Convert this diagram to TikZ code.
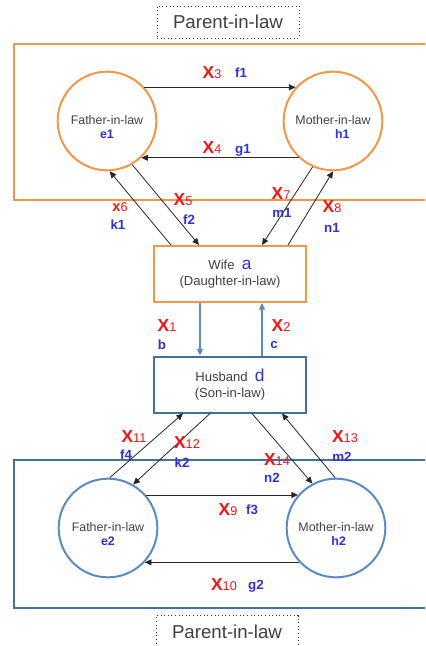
\documentclass[tikz,border=0pt]{standalone}
\usepackage{fontspec}
\setmainfont{Liberation Sans}
\usetikzlibrary{arrows.meta,calc}
\definecolor{orng}{HTML}{F79646}
\definecolor{stblue}{HTML}{5B8AC4}
\definecolor{dkblue}{HTML}{41719C}
\definecolor{xred}{HTML}{FF1010}
\definecolor{lblue}{HTML}{2F2FEA}
\definecolor{txt}{HTML}{404040}
\newcommand\XX[1]{{\fontsize{13}{13}\selectfont\bfseries X}{\fontsize{9.5}{9.5}\selectfont #1}}
\newcommand\ctext[2]{\raisebox{-5.5pt}[\height][\depth]{\begin{tabular}{@{}c@{}}#1\\[-1pt]#2\end{tabular}}}
\tikzset{
  pcircle/.style={circle,minimum size=74pt,inner sep=0pt,line width=1.5pt,
    font=\fontsize{9.3}{12}\selectfont,text=txt},
  arr/.style={-{Triangle[length=5pt,width=4.5pt]},line width=0.6pt,draw=black!85},
  barr/.style={-{Triangle[length=5pt,width=4.5pt]},line width=0.9pt,draw=stblue},
  xlab/.style={text=xred,inner sep=0pt},
  blab/.style={text=lblue,inner sep=0pt,font=\fontsize{10}{10}\selectfont\bfseries},
  person/.style={rectangle,minimum width=114pt,minimum height=42pt,line width=1.5pt,
    align=center,text=txt,font=\fontsize{9.8}{12.5}\selectfont},
  titlebox/.style={draw=black!80,dotted,line width=0.7pt,minimum width=106.5pt,
    text=txt,font=\fontsize{14}{14}\selectfont}
}
\begin{document}
\begin{tikzpicture}[x=0.75pt,y=-0.75pt]
\useasboundingbox (0,0) rectangle (425,646);
\clip (0,0) rectangle (425,646);
% frames
\draw[orng,line width=2.2pt] (14,44) rectangle (440,200);
\draw[dkblue,line width=2.2pt] (14,460) rectangle (440,608);
% title boxes
\node[titlebox,minimum height=24pt] (t1) at (228,22) {Parent-in-law};
\node[titlebox,minimum height=26pt] (t2) at (227,633) {\raisebox{2pt}{Parent-in-law}};
% top circles
\node[pcircle,draw=orng] (fa1) at (107,121) {\ctext{Father-in-law}{\color{lblue}\bfseries e1}};
\node[pcircle,draw=orng] (mo1) at (333,121) {\ctext{Mother-in-law}{\hspace*{14pt}\color{lblue}\bfseries h1}};
% bottom circles
\node[pcircle,draw=stblue] (fa2) at (108,528) {\ctext{Father-in-law}{\color{lblue}\bfseries e2}};
\node[pcircle,draw=stblue] (mo2) at (336,528) {\ctext{Mother-in-law}{\hspace*{4pt}\color{lblue}\bfseries h2}};
% persons
\node[person,draw=orng] (wife) at (230,274) {Wife~~{\color{lblue}\fontsize{13}{13}\selectfont a}\\(Daughter-in-law)};
\node[person,draw=dkblue] (husband) at (230,384.5) {Husband~~{\color{lblue}\fontsize{13}{13}\selectfont d}\\(Son-in-law)};
% top parents arrows
\draw[arr] (fa1.42) -- (mo1.138);
\draw[arr] (mo1.-133) -- (fa1.-47);
\draw[arr] ($(wife.north)+(-59,0)$) -- (fa1.-87);
\draw[arr] (fa1.-60) -- ($(wife.north)+(-31,0)$);
\draw[arr] (mo1.-114) -- ($(wife.north)+(32,0)$);
\draw[arr] ($(wife.north)+(58,0)$) -- (mo1.-90);
% wife-husband
\draw[barr] ($(wife.south)+(-30,0)$) -- ($(husband.north)+(-30,0)$);
\draw[barr] ($(husband.north)+(32,0)$) -- ($(wife.south)+(32,0)$);
% bottom arrows
\draw[arr] (fa2.41) -- (mo2.139);
\draw[arr] (mo2.-137) -- (fa2.-43);
\draw[arr] (fa2.88) -- ($(husband.south)+(-47,0)$);
\draw[arr] ($(husband.south)+(-20,0)$) -- (fa2.60);
\draw[arr] ($(husband.south)+(22,0)$) -- (mo2.118);
\draw[arr] (mo2.91) -- ($(husband.south)+(52,0)$);
% labels
\node[xlab] (l3) at (212,73) {\XX{3}};
\node[blab] (lf1) at (241,73) {f1};
\node[xlab] (l4) at (212,148) {\XX{4}};
\node[blab] (lg1) at (243,150) {g1};
\node[xlab] (l6) at (120,207) {{\fontsize{11}{11}\selectfont\bfseries x}{\fontsize{9.5}{9.5}\selectfont 6}};
\node[blab] (lk1) at (118,225) {k1};
\node[xlab] (l5) at (183,200) {\XX{5}};
\node[blab] (lf2) at (189,220) {f2};
\node[xlab] (l7) at (281,194) {\XX{7}};
\node[blab] (lm1) at (282,213) {m1};
\node[xlab] (l8) at (332,207) {\XX{8}};
\node[blab] (ln1) at (332,228) {n1};
\node[xlab] (l1) at (167,326) {\XX{1}};
\node[blab] (lb) at (162,345) {b};
\node[xlab] (l2) at (281,326) {\XX{2}};
\node[blab] (lc) at (274,345) {c};
\node[xlab] (l11) at (134,437) {\XX{11}};
\node[blab] (lf4) at (126,455) {f4};
\node[xlab] (l12) at (187,443) {\XX{12}};
\node[blab] (lk2) at (182,463) {k2};
\node[xlab] (l14) at (277,460) {\XX{14}};
\node[blab] (ln2) at (272,478) {n2};
\node[xlab] (l13) at (345,437) {\XX{13}};
\node[blab] (lm2) at (342,457) {m2};
\node[xlab] (l9) at (228,510) {\XX{9}};
\node[blab] (lf3) at (252,510) {f3};
\node[xlab] (l10) at (224,585) {\XX{10}};
\node[blab] (lg2) at (256,586) {g2};
\end{tikzpicture}
\end{document}
